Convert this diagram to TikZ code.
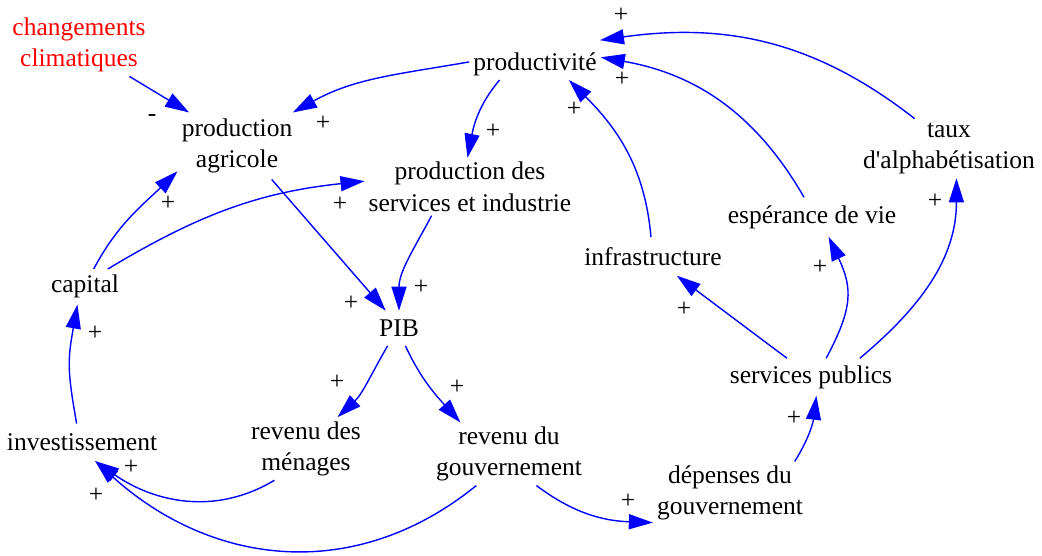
\documentclass[tikz,border=0pt]{standalone}
\usepackage{fontspec}
\setmainfont{Liberation Serif}
\usetikzlibrary{arrows.meta}
\definecolor{linkblue}{RGB}{0,0,255}
\definecolor{extred}{RGB}{255,0,0}
\begin{document}
\begin{tikzpicture}[x=1pt,y=1pt,
  var/.style={font=\fontsize{25.5}{31.5}\selectfont, align=center, inner xsep=4pt, inner ysep=4pt},
  sign/.style={font=\fontsize{25.5}{31.5}\selectfont, inner sep=0pt},
  link/.style={draw=linkblue, line width=1.4pt, -{Triangle[length=24pt,width=15pt]}},
]
\useasboundingbox (0,0) rectangle (1042,-556);

% variables
\node[var, text=extred] (chg) at (79,-44.9) {changements\\climatiques};
\node[var, inner ysep=6pt] (pa) at (237,-146) {production\\agricole};
\node[var] (prod) at (535,-64.2) {productivité};
\node[var] (ps) at (470,-186.7) {production des\\services et industrie};
\node[var] (taux) at (949,-148.5) {taux\\d\textquotesingle alphabétisation};
\node[var, inner ysep=8pt] (esp) at (812,-217) {espérance de vie};
\node[var, inner ysep=10pt] (infra) at (653,-256.4) {infrastructure};
\node[var, inner ysep=6pt] (cap) at (85,-286.8) {capital};
\node[var, inner ysep=9pt] (pib) at (399,-328.3) {PIB};
\node[var, inner ysep=7pt] (sp) at (811,-377) {services publics};
\node[var, inner ysep=10pt] (inv) at (82,-442.3) {investissement};
\node[var] (rm) at (306,-448.7) {revenu des\\ménages};
\node[var] (rg) at (509,-454) {revenu du\\gouvernement};
\node[var] (dep) at (730,-493) {dépenses du\\gouvernement};

% causal links
\draw[link] (chg.-32) -- (pa.145);
\draw[link] (prod.178) to[out=190,in=29] (pa.31);
\draw[link] (prod.204) to[out=230,in=79] (ps.95);
\draw[link] (taux.139) to[out=142,in=8] ([shift={(65,24)}]prod.center);
\draw[link] (esp.112) to[out=120,in=-10] (prod.6);
\draw[link] (infra.96) to[out=95,in=-45] (prod.-25);
\draw[link] (sp.142) -- (infra.-39.5);
\draw[link] (sp.51) to[out=62,in=-65,looseness=1.2] (esp.-50);
\draw[link] (sp.21) to[out=40,in=-90] (taux.-76);
\draw[link] (dep.26) to[out=58,in=-97] (sp.-74);
\draw[link] (rg.-49) to[out=-37,in=178] (dep.201);
\draw[link] (rg.-136) to[out=219,in=-42,looseness=1.05] (inv.-55);
\draw[link] (rm.-135) to[out=211,in=-35] (inv.-55);
\draw[link] (inv.106) to[out=100,in=-100,looseness=1.2] (cap.-113);
\draw[link] (cap.64) to[out=62,in=-136] (pa.203);
\draw[link] (cap.38) to[out=31,in=186] (ps.177);
\draw[link] (pa.-44) -- (pib.127);
\draw[link] (ps.217) to[out=242,in=90] (pib.90);
\draw[link] (pib.-123) to[out=-120,in=43] (rm.45.6);
\draw[link] (pib.-70) to[out=-65,in=132] (rg.147);

% polarity signs
\node[sign] (s1) at (152,-118) {-};
\node[sign] (s2) at (323,-123) {+};
\node[sign] (s3) at (493,-131) {+};
\node[sign] (s4) at (621,-15) {+};
\node[sign] (s5) at (622,-79) {+};
\node[sign] (s6) at (574,-109) {+};
\node[sign] (s7) at (684,-309) {+};
\node[sign] (s8) at (820,-267) {+};
\node[sign] (s9) at (935,-201) {+};
\node[sign] (s10) at (794,-418) {+};
\node[sign] (s11) at (628,-501) {+};
\node[sign] (s12) at (96,-495) {+};
\node[sign] (s13) at (131,-467) {+};
\node[sign] (s14) at (95,-333) {+};
\node[sign] (s15) at (168,-203) {+};
\node[sign] (s16) at (340,-204) {+};
\node[sign] (s17) at (351,-303) {+};
\node[sign] (s18) at (421,-287) {+};
\node[sign] (s19) at (337,-382) {+};
\node[sign] (s20) at (457,-387) {+};
\end{tikzpicture}
\end{document}
